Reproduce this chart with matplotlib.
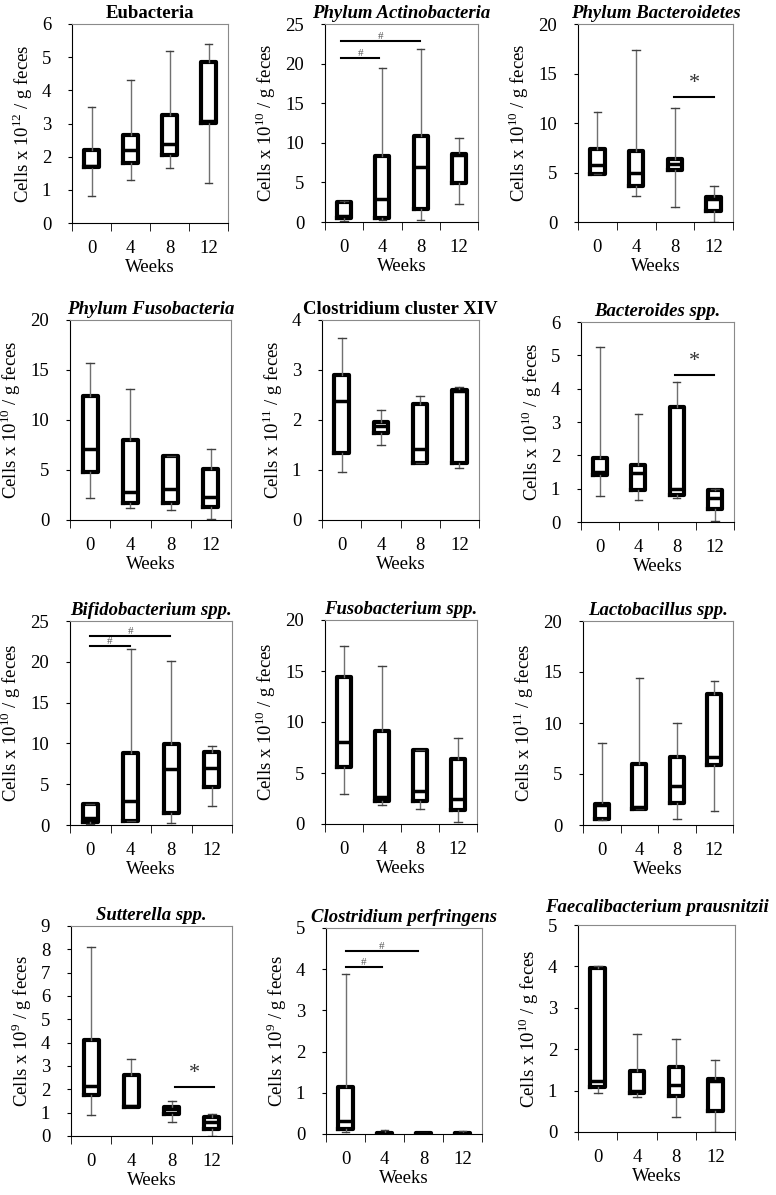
import numpy as np
import matplotlib.pyplot as plt

plt.rcParams['font.family'] = ['Liberation Serif', 'DejaVu Serif']
plt.rcParams['mathtext.fontset'] = 'custom'
plt.rcParams['mathtext.rm'] = 'Liberation Serif'

weeks = ['0', '4', '8', '12']

# each box: [whisker low, q1, median, q3, whisker high]
eubacteria = [[0.80, 1.68, 1.72, 2.20, 3.49],
              [1.31, 1.81, 2.21, 2.64, 4.30],
              [1.66, 2.06, 2.39, 3.25, 5.20],
              [1.20, 3.02, 3.08, 4.85, 5.41]]
actino = [[0.10, 0.46, 0.70, 2.57, 2.60],
          [0.20, 0.46, 2.87, 8.39, 19.4],
          [0.20, 1.60, 7.00, 10.8, 21.9],
          [2.28, 4.97, 8.45, 8.60, 10.6]]
bacteroidetes = [[4.80, 4.86, 5.76, 7.35, 11.1],
                 [2.63, 3.64, 4.99, 7.18, 17.4],
                 [1.55, 5.26, 5.90, 6.34, 11.5],
                 [0.03, 1.15, 2.29, 2.56, 3.64]]
fusobacteria = [[2.20, 4.85, 7.14, 12.4, 15.7],
                [1.20, 1.70, 2.76, 8.00, 13.1],
                [1.03, 1.70, 3.09, 6.45, 6.45],
                [0.10, 1.30, 2.29, 5.08, 7.10]]
clos_xiv = [[0.96, 1.34, 2.39, 2.90, 3.64],
            [1.50, 1.75, 1.88, 1.97, 2.21],
            [1.15, 1.15, 1.42, 2.32, 2.49],
            [1.04, 1.15, 2.58, 2.61, 2.66]]
bacteroides = [[0.77, 1.42, 1.50, 1.91, 5.25],
               [0.67, 0.95, 1.48, 1.71, 3.23],
               [0.73, 0.80, 0.98, 3.44, 4.21],
               [0.03, 0.38, 0.72, 0.95, 1.00]]
bifido = [[0.15, 0.40, 0.80, 2.57, 2.60],
          [0.50, 0.50, 3.00, 8.82, 21.6],
          [0.30, 1.50, 6.90, 9.90, 20.1],
          [2.30, 4.70, 7.00, 8.90, 9.70]]
fuso_spp = [[2.90, 5.60, 8.00, 14.4, 17.5],
            [1.90, 2.30, 2.60, 9.10, 15.5],
            [1.50, 2.30, 3.20, 7.30, 7.30],
            [0.20, 1.40, 2.50, 6.40, 8.40]]
lacto = [[0.50, 0.55, 1.95, 2.10, 8.00],
         [1.60, 1.60, 1.80, 6.00, 14.4],
         [0.60, 2.20, 3.80, 6.70, 10.0],
         [1.40, 5.90, 6.70, 12.8, 14.1]]
sutterella = [[0.90, 1.75, 2.15, 4.10, 8.10],
              [1.25, 1.25, 1.30, 2.60, 3.30],
              [0.60, 0.95, 1.15, 1.25, 1.50],
              [0.00, 0.30, 0.62, 0.80, 0.95]]
perfringens = [[0.05, 0.12, 0.32, 1.15, 3.88],
               [0.00, 0.00, 0.01, 0.03, 0.10],
               [0.00, 0.00, 0.01, 0.02, 0.02],
               [0.00, 0.00, 0.01, 0.03, 0.08]]
faecali = [[0.95, 1.08, 1.22, 3.95, 4.02],
           [0.85, 0.93, 0.99, 1.48, 2.37],
           [0.37, 0.86, 1.13, 1.58, 2.25],
           [0.00, 0.50, 1.22, 1.27, 1.75]]

titles = ['Eubacteria', 'Phylum Actinobacteria', 'Phylum Bacteroidetes',
          'Phylum Fusobacteria', 'Clostridium cluster XIV', 'Bacteroides spp.',
          'Bifidobacterium spp.', 'Fusobacterium spp.', 'Lactobacillus spp.',
          'Sutterella spp.', 'Clostridium perfringens', 'Faecalibacterium prausnitzii']
italic = [False, True, True, True, False, True, True, True, True, True, True, True]
exponents = ['12', '10', '10', '10', '11', '10', '10', '10', '11', '9', '9', '10']
ymax = [6, 25, 20, 20, 4, 6, 25, 20, 20, 9, 5, 5]
ystep = [1, 5, 5, 5, 1, 1, 5, 5, 5, 1, 1, 1]
panels = [eubacteria, actino, bacteroidetes, fusobacteria, clos_xiv, bacteroides,
          bifido, fuso_spp, lacto, sutterella, perfringens, faecali]

# significance bars: (panel, x from, x to, y, mark)
sig_bars = [(1, 0.92, 1.92, 20.7, '#'), (1, 0.92, 2.98, 22.8, '#'),
            (2, 2.98, 4.02, 12.6, '*'),
            (5, 2.96, 3.98, 4.42, '*'),
            (6, 1.0, 1.98, 21.9, '#'), (6, 1.0, 2.98, 23.2, '#'),
            (9, 3.08, 4.06, 2.1, '*'),
            (10, 1.0, 1.94, 4.05, '#'), (10, 1.0, 2.86, 4.45, '#')]

# axes boxes in pixels: left, top, right, bottom
rects = [(72, 24, 228, 223), (325, 24, 478, 222), (578, 24, 733, 222),
         (70, 320, 231, 520), (322, 320, 479, 520), (581, 322, 734, 522),
         (70, 621, 232, 825), (325, 620, 477, 824), (583, 621, 733, 825),
         (71, 926, 232, 1136), (326, 928, 482, 1134), (578, 925, 735, 1132)]
title_pad = [4, 4, 4, 4, 4, 4, 4, 4, 4, 4, 4, 9]

W, H = 776, 1195
fig = plt.figure(figsize=(W / 100, H / 100), dpi=100)

for i, data in enumerate(panels):
    l, t, r, b = rects[i]
    ax = fig.add_axes([l / W, 1 - b / H, (r - l) / W, (b - t) / H])
    stats = [dict(whislo=d[0], q1=d[1], med=d[2], q3=d[3], whishi=d[4]) for d in data]
    ax.bxp(stats, positions=[1, 2, 3, 4], widths=0.37, showfliers=False,
           boxprops=dict(color='black', linewidth=3),
           medianprops=dict(color='black', linewidth=2.5),
           whiskerprops=dict(color='#707070', linewidth=1),
           capprops=dict(color='#404040', linewidth=1), capwidths=0.2)
    ax.set_xlim(0.5, 4.5)
    ax.set_ylim(0, ymax[i])
    ax.set_yticks(np.arange(0, ymax[i] + 0.01, ystep[i]))
    ax.set_xticks([1, 2, 3, 4])
    ax.set_xticklabels(weeks)
    ax.set_xticks([0.5, 1.5, 2.5, 3.5, 4.5], minor=True)
    ax.tick_params(axis='x', which='major', length=0, labelsize=13.5, pad=12)
    ax.tick_params(axis='x', which='minor', length=6, direction='out')
    ax.tick_params(axis='y', length=3, labelsize=13.5, pad=12)
    for s in ['top', 'right']:
        ax.spines[s].set_color('#8a8a8a')
    ax.set_xlabel('Weeks', fontsize=13.5, labelpad=2)
    ax.set_ylabel('Cells x 10$^{' + exponents[i] + '}$ / g feces', fontsize=13.5, labelpad=5)
    ax.set_title(titles[i], fontsize=13.5, fontweight='bold',
                 fontstyle='italic' if italic[i] else 'normal', pad=title_pad[i])

    for p, x0, x1, y, mark in sig_bars:
        if p != i:
            continue
        ax.plot([x0, x1], [y, y], color='black', linewidth=1.5, clip_on=False)
        if mark == '#':
            ax.text((x0 + x1) / 2, y, '#', ha='center', va='bottom',
                    fontsize=8, color='#555555')
        else:
            ax.text((x0 + x1) / 2, y + ymax[i] * 0.02, '*', ha='center', va='bottom',
                    fontsize=16, color='#333333')

fig.savefig('out.png', dpi=100)
